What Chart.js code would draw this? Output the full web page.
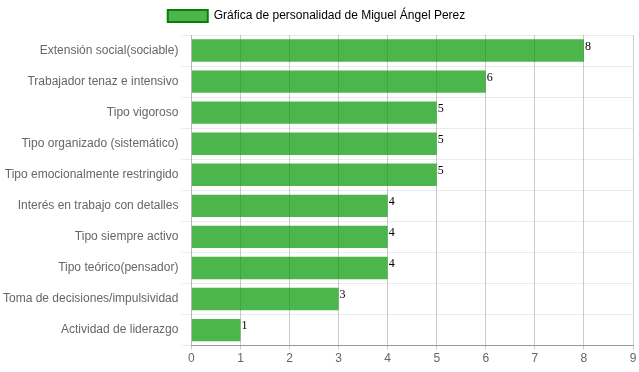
<!DOCTYPE html>
<html>
<head>
<meta charset="utf-8">
<script src="https://cdn.jsdelivr.net/npm/chart.js@4/dist/chart.umd.min.js"></script>
<style>
html,body{margin:0;padding:0;background:#fff;}
#wrap{width:639px;height:372px;position:relative;}
</style>
</head>
<body>
<div id="wrap"><canvas id="c" width="639" height="372"></canvas></div>
<script>
const categories = [
  "Extensión social(sociable)",
  "Trabajador tenaz e intensivo",
  "Tipo vigoroso",
  "Tipo organizado (sistemático)",
  "Tipo emocionalmente restringido",
  "Interés en trabajo con detalles",
  "Tipo siempre activo",
  "Tipo teórico(pensador)",
  "Toma de decisiones/impulsividad",
  "Actividad de liderazgo"
];
const values = [8, 6, 5, 5, 5, 4, 4, 4, 3, 1];
const seriesName = "Gráfica de personalidad de Miguel Ángel Perez";
const xTicks = [0,1,2,3,4,5,6,7,8,9];

Chart.defaults.font.family = "'Liberation Sans', Arial, sans-serif";
Chart.defaults.font.size = 12;
Chart.defaults.color = "#666";

const valueLabels = {
  id: 'valueLabels',
  afterDatasetsDraw(chart) {
    const ctx = chart.ctx;
    const meta = chart.getDatasetMeta(0);
    ctx.save();
    ctx.font = "12px 'Liberation Serif', 'Times New Roman', serif";
    ctx.fillStyle = "#000";
    ctx.textAlign = "left";
    ctx.textBaseline = "top";
    meta.data.forEach((bar, i) => {
      const top = bar.y - bar.height / 2;
      ctx.fillText(String(values[i]), bar.x + 1, top + 1);
    });
    ctx.restore();
  }
};

const legendGap = {
  id: 'legendGap',
  beforeInit(chart) {
    const origFit = chart.legend.fit;
    chart.legend.fit = function () {
      origFit.bind(chart.legend)();
      this.height += 3;
    };
  }
};

new Chart(document.getElementById('c'), {
  type: 'bar',
  data: {
    labels: categories,
    datasets: [{
      label: seriesName,
      data: values,
      backgroundColor: 'rgba(0,150,0,0.7)',
      borderWidth: 0,
      barPercentage: 0.9,
      categoryPercentage: 0.8
    }]
  },
  options: {
    indexAxis: 'y',
    responsive: false,
    animation: false,
    devicePixelRatio: 1,
    layout: { padding: { left: 0, right: 6, top: 0, bottom: 4 } },
    plugins: {
      legend: {
        display: true,
        position: 'top',
        labels: {
          boxWidth: 40,
          boxHeight: 12,
          padding: 10,
          color: '#666',
          font: { size: 12 },
          generateLabels(chart) {
            return [{
              text: seriesName,
              fillStyle: 'rgba(0,150,0,0.7)',
              strokeStyle: '#0a7d0a',
              lineWidth: 2,
              hidden: false,
              datasetIndex: 0
            }];
          }
        }
      },
      tooltip: { enabled: false }
    },
    scales: {
      x: {
        min: 0,
        max: 9,
        afterBuildTicks(scale) { scale.ticks = xTicks.map(v => ({ value: v })); },
        ticks: { stepSize: 1, color: '#666', padding: 2 },
        grid: { color: 'rgba(0,0,0,0.2)', tickLength: 4 },
        border: { color: 'rgba(0,0,0,0.35)' }
      },
      y: {
        ticks: { color: '#666', padding: 3 },
        grid: { color: 'rgba(0,0,0,0.08)', offset: true, tickLength: 10 },
        border: { color: 'rgba(0,0,0,0.1)' }
      }
    }
  },
  plugins: [valueLabels, legendGap]
});
</script>
</body>
</html>
